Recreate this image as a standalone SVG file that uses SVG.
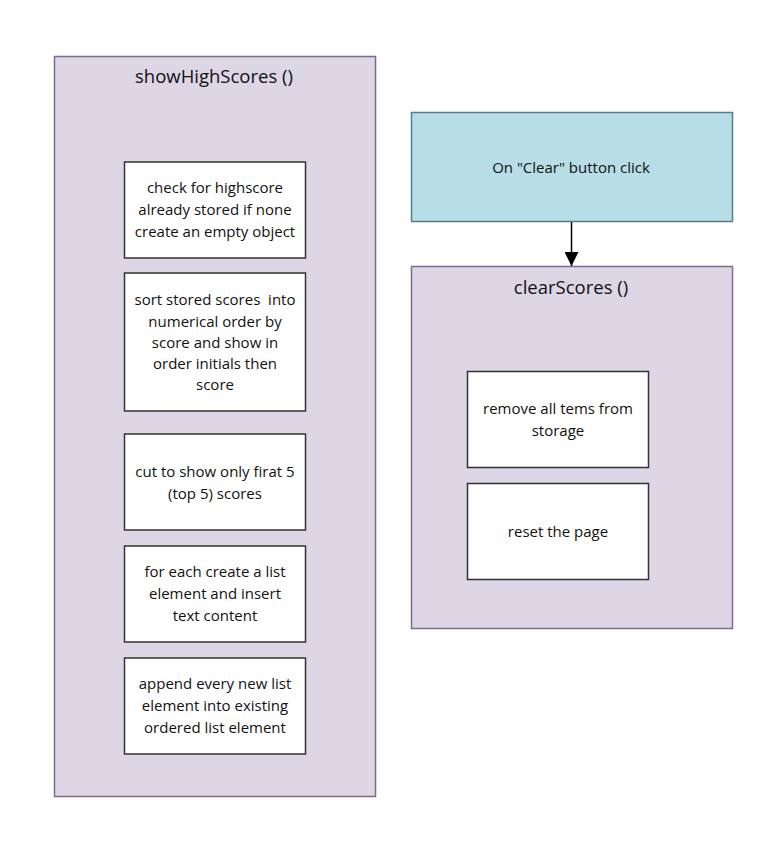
<svg xmlns="http://www.w3.org/2000/svg" width="757" height="843" viewBox="0 0 757 843">
<defs>
<style>
.cont{fill:#DCD6E5;stroke:#7B6B93;stroke-width:1.5}
.trig{fill:#B7DDE6;stroke:#4F7F8A;stroke-width:1.5}
.box{fill:#FFFFFF;stroke:#333333;stroke-width:1.5}
text{font-family:"Open Sans","Liberation Sans",sans-serif;fill:#111111;text-anchor:middle;white-space:pre}
.title{font-size:18.5px}
.t{font-size:15px}
.conn{stroke:#000;stroke-width:1.5;fill:none}
</style>
<marker id="arr" markerWidth="14" markerHeight="14" refX="14" refY="7" orient="auto" markerUnits="userSpaceOnUse">
<path d="M0,0 L14,7 L0,14 Z" fill="#000"/>
</marker>
</defs>
<rect width="757" height="843" fill="#FFFFFF"/>
<g id="showHighScores">
<rect class="cont" x="54.5" y="56.5" width="321" height="740"/>
<text class="title" x="214" y="83">showHighScores ()</text>
</g>
<g id="checkHighscore">
<rect class="box" x="124.5" y="162" width="181" height="96"/>
<text class="t" x="215" y="193">check for highscore</text>
<text class="t" x="215" y="215">already stored if none</text>
<text class="t" x="215" y="237">create an empty object</text>
</g>
<g id="sortScores">
<rect class="box" x="124.5" y="273" width="181" height="138"/>
<text class="t" x="215" y="305" xml:space="preserve">sort stored scores  into</text>
<text class="t" x="215" y="326.5">numerical order by</text>
<text class="t" x="215" y="348">score and show in</text>
<text class="t" x="215" y="369">order initials then</text>
<text class="t" x="215" y="390">score</text>
</g>
<g id="cutTop5">
<rect class="box" x="124.5" y="434" width="181" height="96"/>
<text class="t" x="215" y="477">cut to show only firat 5</text>
<text class="t" x="215" y="499">(top 5) scores</text>
</g>
<g id="createList">
<rect class="box" x="124.5" y="546" width="181" height="96"/>
<text class="t" x="215" y="577">for each create a list</text>
<text class="t" x="215" y="599">element and insert</text>
<text class="t" x="215" y="621">text content</text>
</g>
<g id="appendList">
<rect class="box" x="124.5" y="658" width="181" height="96"/>
<text class="t" x="215" y="689">append every new list</text>
<text class="t" x="215" y="711">element into existing</text>
<text class="t" x="215" y="733">ordered list element</text>
</g>
<g id="clearClick">
<rect class="trig" x="411.5" y="112.5" width="321" height="109"/>
<text class="t" x="571" y="173">On "Clear" button click</text>
</g>
<g id="clearScores">
<rect class="cont" x="411.5" y="266.5" width="321" height="362"/>
<text class="title" x="571" y="294">clearScores ()</text>
</g>
<g id="removeItems">
<rect class="box" x="467.5" y="371.5" width="181" height="96"/>
<text class="t" x="558" y="414">remove all tems from</text>
<text class="t" x="558" y="436">storage</text>
</g>
<g id="resetPage">
<rect class="box" x="467.5" y="483.5" width="181" height="96"/>
<text class="t" x="558" y="537">reset the page</text>
</g>
<g id="connectors">
<line class="conn" x1="571.5" y1="222" x2="571.5" y2="266" marker-end="url(#arr)"/>
</g>
</svg>
